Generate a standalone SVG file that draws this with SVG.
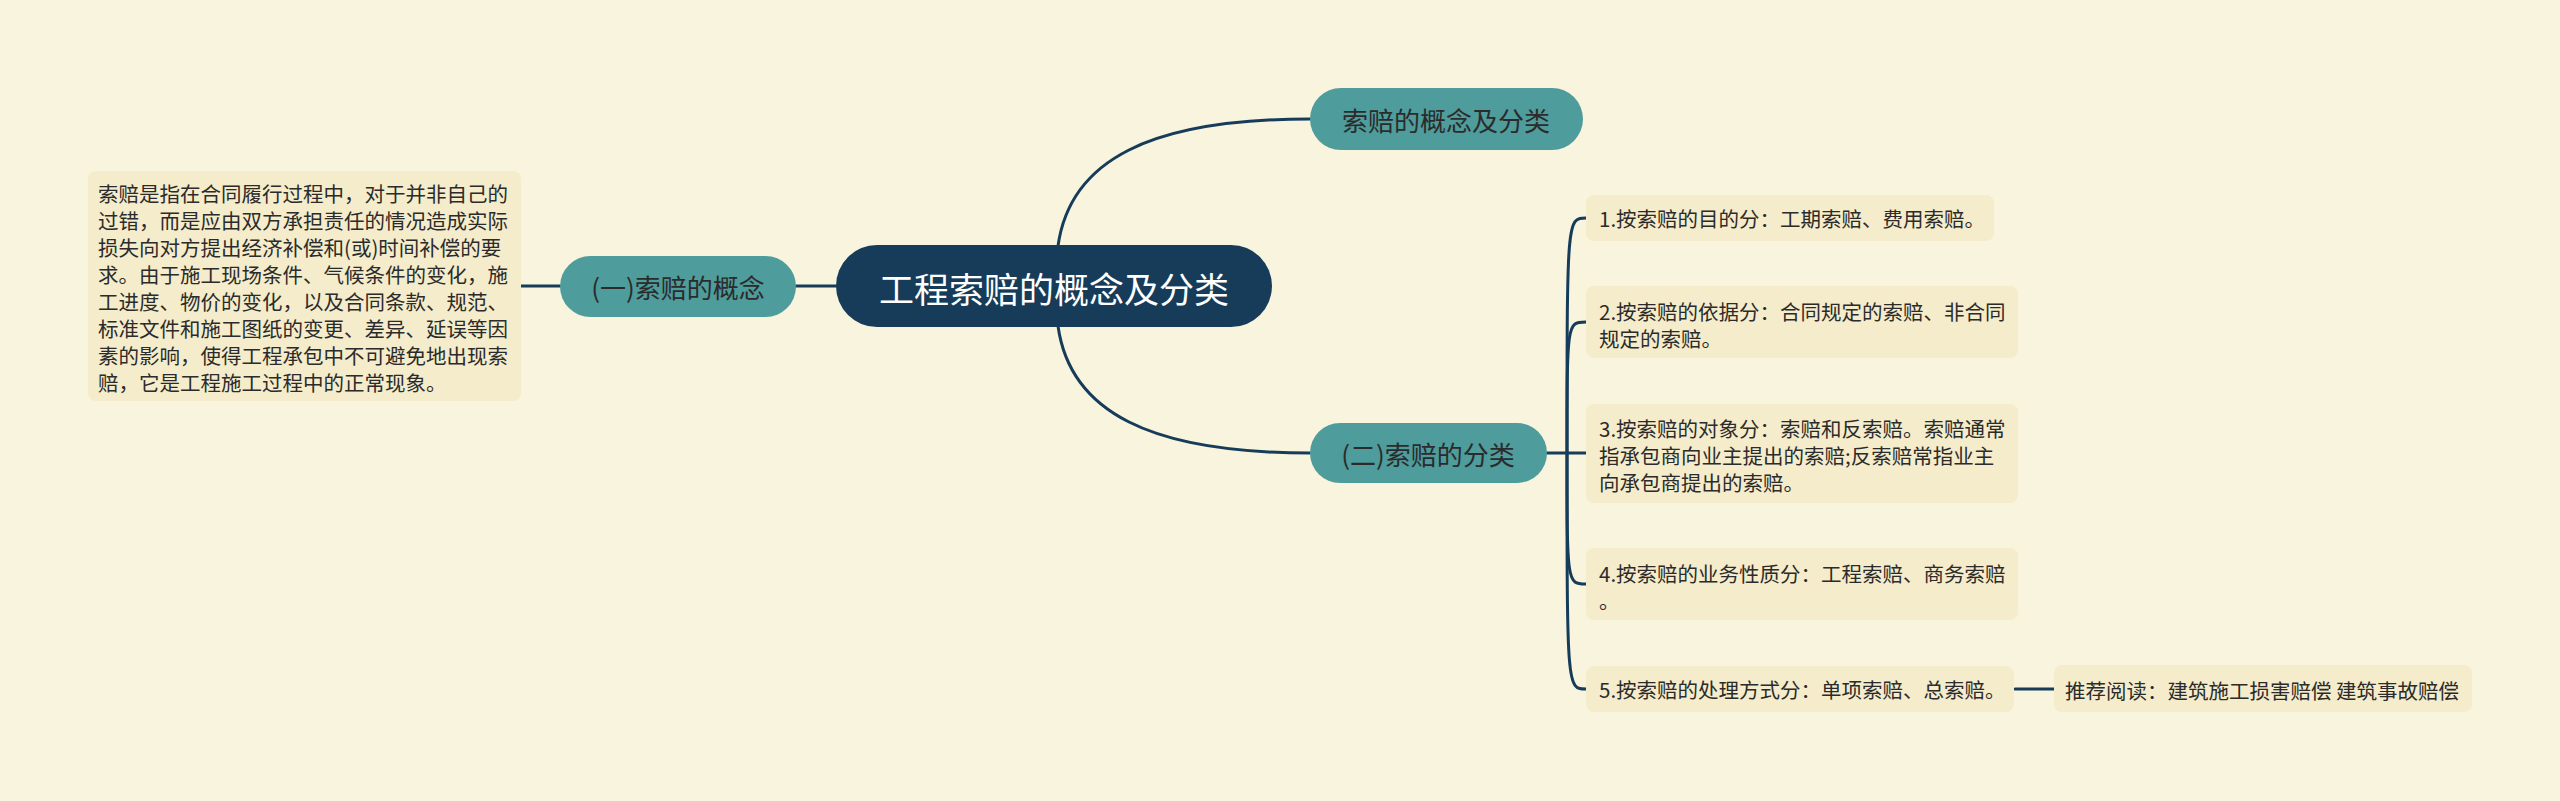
<svg xmlns="http://www.w3.org/2000/svg" width="2560" height="801" viewBox="0 0 2560 801">
<style>
.t{font-family:"Noto Sans CJK SC","Noto Sans",sans-serif;fill:#2b2b2b;dominant-baseline:central}
.leaf{fill:#f4ecca}
.teal{fill:#4e9c9b}
.s{font-size:20.5px}
.m{font-size:26px;text-anchor:middle}
.c{fill:none;stroke:#163c5a;stroke-width:3;stroke-linecap:round}
</style>
<rect width="2560" height="801" fill="#f9f4de"/>
<g id="connectors">
<path class="c" d="M1058,246 C1070,160 1150,119 1310,119"/>
<path class="c" d="M1058,326 C1070,412 1150,453 1310,453"/>
<path class="c" d="M796,286 L836,286"/>
<path class="c" d="M521,286 L560,286"/>
<path class="c" d="M1547,453 L1586,453"/>
<path class="c" d="M1567,453 C1567,218 1567,218 1586,218"/>
<path class="c" d="M1567,453 C1567,322 1567,322 1586,322"/>
<path class="c" d="M1567,453 C1567,584 1567,584 1586,584"/>
<path class="c" d="M1567,453 C1567,689 1567,689 1586,689"/>
<path class="c" d="M2015,689 L2054,689"/>
</g>
<g id="root">
<rect x="836" y="245" width="436" height="82" rx="41" fill="#163c5a"/>
<text class="t" x="1054" y="287" font-size="35" text-anchor="middle" fill="#ffffff" style="fill:#ffffff">工程索赔的概念及分类</text>
</g>
<g id="n-concept-top">
<rect class="teal" x="1310" y="88" width="273" height="62" rx="31"/>
<text class="t m" x="1446" y="119">索赔的概念及分类</text>
</g>
<g id="n-concept">
<rect class="teal" x="560" y="256" width="236" height="61" rx="30.5"/>
<text class="t m" x="678" y="286">(一)索赔的概念</text>
</g>
<g id="n-class">
<rect class="teal" x="1310" y="423" width="237" height="60" rx="30"/>
<text class="t m" x="1428" y="453">(二)索赔的分类</text>
</g>
<g id="n-concept-detail">
<rect class="leaf" x="88" y="171" width="433" height="230" rx="8"/>
<text class="t s" x="98">
<tspan x="98" y="193">索赔是指在合同履行过程中，对于并非自己的</tspan>
<tspan x="98" y="220">过错，而是应由双方承担责任的情况造成实际</tspan>
<tspan x="98" y="247">损失向对方提出经济补偿和(或)时间补偿的要</tspan>
<tspan x="98" y="274">求。由于施工现场条件、气候条件的变化，施</tspan>
<tspan x="98" y="301">工进度、物价的变化，以及合同条款、规范、</tspan>
<tspan x="98" y="328">标准文件和施工图纸的变更、差异、延误等因</tspan>
<tspan x="98" y="355">素的影响，使得工程承包中不可避免地出现索</tspan>
<tspan x="98" y="382">赔，它是工程施工过程中的正常现象。</tspan>
</text>
</g>
<g id="c1">
<rect class="leaf" x="1586" y="195" width="408" height="46" rx="8"/>
<text class="t s" x="1599" y="218">1.按索赔的目的分：工期索赔、费用索赔。</text>
</g>
<g id="c2">
<rect class="leaf" x="1586" y="286" width="432" height="72" rx="8"/>
<text class="t s"><tspan x="1599" y="311">2.按索赔的依据分：合同规定的索赔、非合同</tspan><tspan x="1599" y="338">规定的索赔。</tspan></text>
</g>
<g id="c3">
<rect class="leaf" x="1586" y="404" width="432" height="99" rx="8"/>
<text class="t s"><tspan x="1599" y="428">3.按索赔的对象分：索赔和反索赔。索赔通常</tspan><tspan x="1599" y="455">指承包商向业主提出的索赔;反索赔常指业主</tspan><tspan x="1599" y="482">向承包商提出的索赔。</tspan></text>
</g>
<g id="c4">
<rect class="leaf" x="1586" y="548" width="432" height="72" rx="8"/>
<text class="t s"><tspan x="1599" y="573">4.按索赔的业务性质分：工程索赔、商务索赔</tspan><tspan x="1599" y="600">。</tspan></text>
</g>
<g id="c5">
<rect class="leaf" x="1586" y="666" width="428" height="46" rx="8"/>
<text class="t s" x="1599" y="689">5.按索赔的处理方式分：单项索赔、总索赔。</text>
</g>
<g id="c5-1">
<rect class="leaf" x="2054" y="665" width="418" height="47" rx="8"/>
<text class="t s" x="2065" y="690">推荐阅读：建筑施工损害赔偿 建筑事故赔偿</text>
</g>
</svg>
